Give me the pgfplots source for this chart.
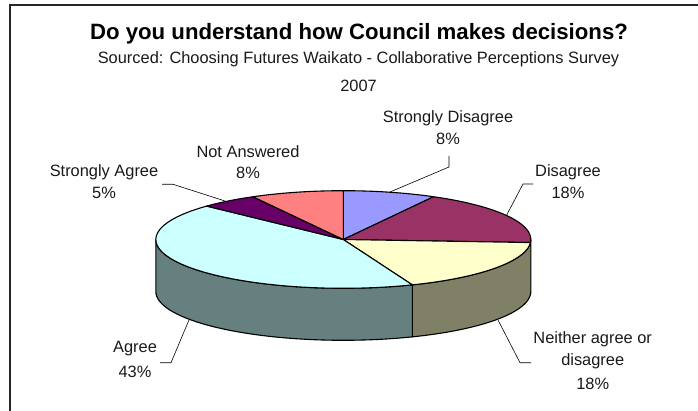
\documentclass[border=0pt]{standalone}
\usepackage{fontspec}
\setmainfont{Liberation Sans}
\usepackage{pgfplots}
\pgfplotsset{compat=1.18}

% Slice colours and their darker side shades
\definecolor{sdis}{HTML}{9999FF}
\definecolor{dis}{HTML}{993366}
\definecolor{neither}{HTML}{FFFFCC}
\definecolor{agree}{HTML}{CCFFFF}
\definecolor{sagree}{HTML}{660066}
\definecolor{nans}{HTML}{FF8080}
\definecolor{neitherside}{HTML}{808066}
\definecolor{agreeside}{HTML}{668080}

\tikzset{lbl/.style={font=\fontsize{16.4}{18}\selectfont,text=black!90,inner sep=0pt,anchor=center}}

% Pie geometry in picture units
\def\cx{343.3}\def\cy{239.5}\def\rx{187.5}\def\ry{48.8}\def\depth{52}

% Append an elliptical arc from angle #1 to angle #2, shifted down by #3
\def\addarc#1#2#3{%
  \pgfmathsetmacro\astep{(#2-#1)/40}%
  \foreach \k in {0,...,40}{%
    \pgfmathsetmacro\ang{#1+\k*\astep}%
    \pgfmathsetmacro\px{\cx+\rx*cos(\ang)}%
    \pgfmathsetmacro\py{\cy-\ry*sin(\ang)+#3}%
    \xdef\pts{\pts (\px,\py)}%
  }%
}
% One slice of the top face
\def\slice#1#2#3{%
  \xdef\pts{(\cx,\cy)}%
  \addarc{#1}{#2}{0}%
  \xdef\pts{\pts (\cx,\cy)}%
  \edef\tmp{\noexpand\addplot[fill=#3,draw=black,line width=1.1pt,line join=round] coordinates {\pts};}%
  \tmp
}
% One piece of the cylinder wall
\def\wall#1#2#3{%
  \xdef\pts{}%
  \addarc{#1}{#2}{0}%
  \addarc{#2}{#1}{\depth}%
  \pgfmathsetmacro\px{\cx+\rx*cos(#1)}%
  \pgfmathsetmacro\py{\cy-\ry*sin(#1)}%
  \xdef\pts{\pts (\px,\py)}%
  \edef\tmp{\noexpand\addplot[fill=#3,draw=black,line width=1.1pt,line join=round] coordinates {\pts};}%
  \tmp
}
% Running start angle: each share (per cent of the full circle) moves it clockwise
\def\share#1#2{%
  \pgfmathsetmacro\angend{\angstart-3.6*#1}%
  \slice{\angstart}{\angend}{#2}%
  \global\let\angstart\angend
}

\begin{document}
\begin{tikzpicture}
\path[use as bounding box] (0,0) rectangle (698pt,411pt);
\begin{axis}[
  at={(0,0)},anchor=south west,
  scale only axis,width=698pt,height=411pt,
  xmin=0,xmax=698,ymin=0,ymax=411,y dir=reverse,
  hide axis,clip=false,
  every axis plot/.append style={mark=none,forget plot},
]
% Chart frame
\addplot[draw=black!85,line width=2pt] coordinates {(9.5,411) (9.5,5.5) (698,5.5)};

% Leader lines
\addplot[draw=black,line width=0.6pt] coordinates {(449,156) (449,167) (390,192)};
\addplot[draw=black,line width=0.6pt] coordinates {(533,184) (523,184) (506.7,215)};
\addplot[draw=black,line width=0.6pt] coordinates {(162,184.3) (173,184.3) (225,201)};
\addplot[draw=black,line width=0.6pt] coordinates {(160,362.7) (171,362.7) (189,320)};
\addplot[draw=black,line width=0.6pt] coordinates {(531,362.7) (520,362.7) (498,320)};

% Cylinder wall, visible front half
\pgfmathsetmacro\angA{90-3.6*(8+18+18)}
\wall{0}{\angA}{neitherside}
\wall{\angA}{-180}{agreeside}

% Top face: Strongly Disagree, Disagree, Neither, Agree, Strongly Agree, Not Answered
\gdef\angstart{90}
\share{8}{sdis}
\share{18}{dis}
\share{18}{neither}
\share{43}{agree}
\share{5}{sagree}
\share{8}{nans}

% Titles
\node[inner sep=0pt,font=\fontsize{22.2}{24}\selectfont\bfseries,text=black] at (axis cs:359,34) {Do you understand how Council makes decisions?};
\node[lbl] at (axis cs:358.5,59.5) {Sourced: Choosing Futures Waikato - Collaborative Perceptions Survey};
\node[lbl] at (axis cs:358.5,86) {2007};

% Slice labels
\node[lbl] at (axis cs:448,118) {Strongly Disagree};
\node[lbl] at (axis cs:448,139) {8\%};
\node[lbl] at (axis cs:568,172) {Disagree};
\node[lbl] at (axis cs:568,192.5) {18\%};
\node[lbl] at (axis cs:592.7,339.3) {Neither agree or};
\node[lbl] at (axis cs:592.7,361) {disagree};
\node[lbl] at (axis cs:592.7,383.5) {18\%};
\node[lbl] at (axis cs:135,349) {Agree};
\node[lbl] at (axis cs:135,372) {43\%};
\node[lbl] at (axis cs:104,172) {Strongly Agree};
\node[lbl] at (axis cs:104,193) {5\%};
\node[lbl] at (axis cs:248,152) {Not Answered};
\node[lbl] at (axis cs:248,173) {8\%};
\end{axis}
\end{tikzpicture}
\end{document}
